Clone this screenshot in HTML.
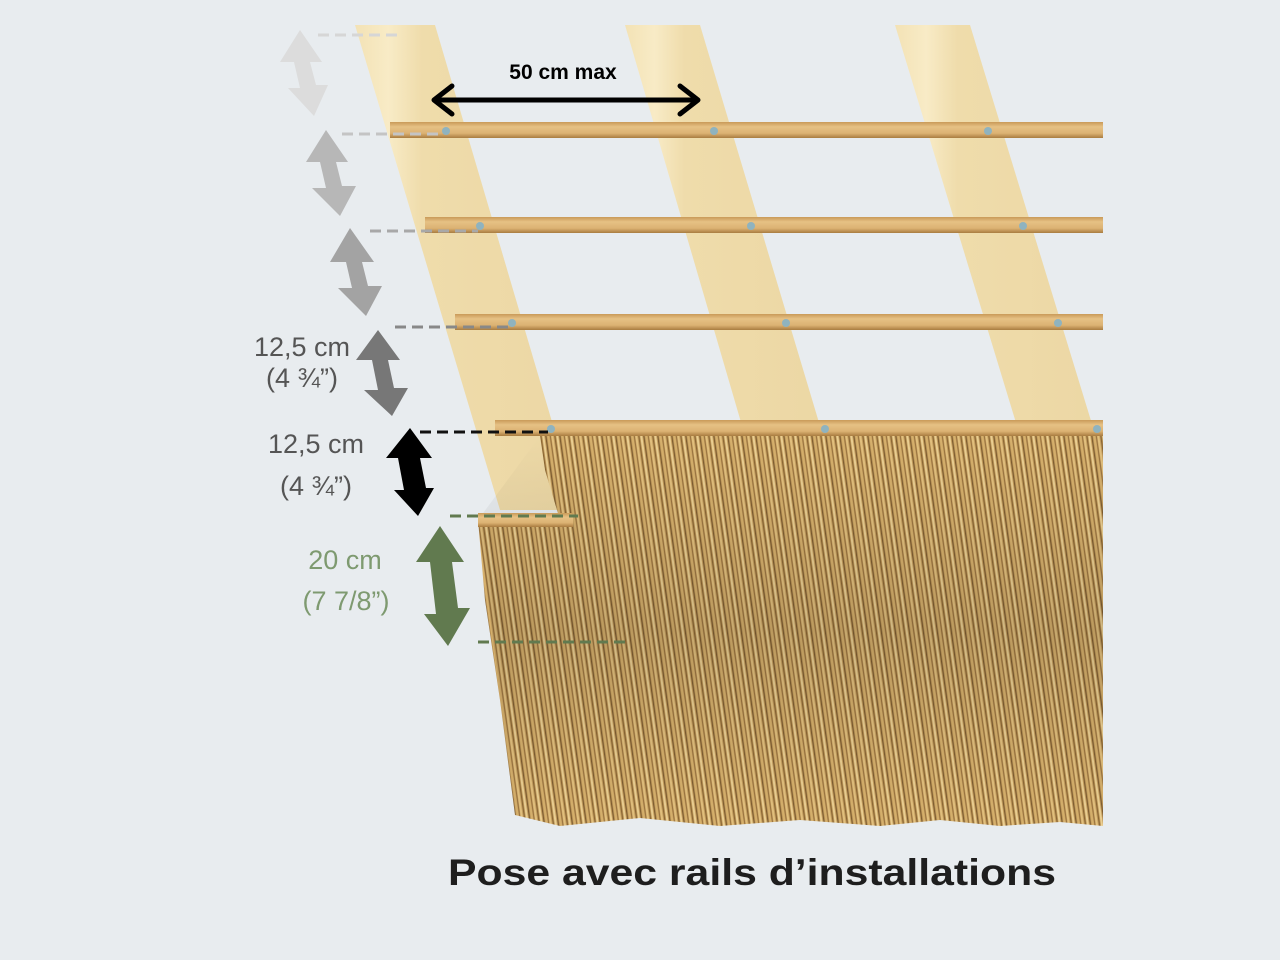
<!DOCTYPE html>
<html><head><meta charset="utf-8"><style>
html,body{margin:0;padding:0;background:#e8ecef;}
svg{display:block}
</style></head><body>
<svg width="1280" height="960" viewBox="0 0 1280 960" xmlns="http://www.w3.org/2000/svg">
<defs>
<linearGradient id="raf" x1="0" x2="1" y1="0" y2="0">
<stop offset="0" stop-color="#f3e2b5"/><stop offset="0.15" stop-color="#f8ebc6"/><stop offset="0.3" stop-color="#efdcab"/><stop offset="1" stop-color="#ecd7a4"/>
</linearGradient>
<linearGradient id="rail" x1="0" x2="0" y1="0" y2="1">
<stop offset="0" stop-color="#c99a58"/><stop offset="0.3" stop-color="#e6c184"/><stop offset="0.7" stop-color="#dcb273"/><stop offset="1" stop-color="#a97c40"/>
</linearGradient>
<pattern id="straw" width="14" height="400" patternUnits="userSpaceOnUse" patternTransform="skewX(8)">
<rect width="14" height="400" fill="#c29b5c"/>
<rect x="0" width="2" height="400" fill="#e2c07e"/>
<rect x="3" width="1.2" height="400" fill="#8a6634"/>
<rect x="5" width="2" height="400" fill="#ebcf92"/>
<rect x="8" width="1.2" height="400" fill="#7d5c30"/>
<rect x="10" width="2" height="400" fill="#d6b06c"/>
<rect x="12.5" width="1" height="400" fill="#9a7440"/>
</pattern>
<linearGradient id="shade" x1="0" x2="0" y1="0" y2="1">
<stop offset="0" stop-color="#000" stop-opacity="0"/><stop offset="0.5" stop-color="#000" stop-opacity="0.12"/><stop offset="1" stop-color="#000" stop-opacity="0"/>
</linearGradient>
</defs>
<rect width="1280" height="960" fill="#e8ecef"/>
<polygon points="355,25 435,25 578,510 500,510" fill="url(#raf)"/>
<polygon points="625,25 700,25 823,436 745,436" fill="url(#raf)"/>
<polygon points="895,25 970,25 1103,460 1103,480 1020,436" fill="url(#raf)"/>
<rect x="390" y="122" width="713" height="16" fill="url(#rail)"/>
<rect x="425" y="217" width="678" height="16" fill="url(#rail)"/>
<rect x="455" y="314" width="648" height="16" fill="url(#rail)"/>
<rect x="495" y="420" width="608" height="16" fill="url(#rail)"/>
<g fill="#8fb3bf">
<circle cx="446" cy="131" r="4"/><circle cx="714" cy="131" r="4"/><circle cx="988" cy="131" r="4"/>
<circle cx="480" cy="226" r="4"/><circle cx="751" cy="226" r="4"/><circle cx="1023" cy="226" r="4"/>
<circle cx="512" cy="323" r="4"/><circle cx="786" cy="323" r="4"/><circle cx="1058" cy="323" r="4"/>
<circle cx="551" cy="429" r="4"/><circle cx="825" cy="429" r="4"/><circle cx="1097" cy="429" r="4"/>
</g>
<polygon points="540,436 1103,436 1103,826 1060,822 1000,826 940,820 880,826 800,820 720,826 640,818 560,826 515,815 500,700 485,600 478,520 560,520 545,470" fill="url(#straw)"/>
<polygon points="540,436 1103,436 1103,826 515,815 478,520" fill="url(#shade)"/>
<rect x="478" y="513" width="95" height="14" fill="url(#rail)"/>
<g stroke-width="3" stroke-dasharray="11,6" fill="none">
<line x1="318" y1="35" x2="400" y2="35" stroke="#d6d6d6"/>
<line x1="342" y1="134" x2="442" y2="134" stroke="#c4c4c4"/>
<line x1="370" y1="231" x2="478" y2="231" stroke="#a8a8a8"/>
<line x1="395" y1="327" x2="510" y2="327" stroke="#888"/>
<line x1="420" y1="432" x2="548" y2="432" stroke="#111"/>
<line x1="450" y1="516" x2="578" y2="516" stroke="#617a4f"/>
<line x1="478" y1="642" x2="625" y2="642" stroke="#617a4f"/>
</g>
<g>
<g fill="#dcdcdc"><polygon points="300,30 322,62 310,62 316,85 328,85 314,116 288,88 300,88 294,62 280,62"/></g>
<g fill="#b7b7b7"><polygon points="326,130 348,162 336,162 342,186 356,186 340,216 312,188 326,188 320,162 306,162"/></g>
<g fill="#a3a3a3"><polygon points="350,228 374,262 362,262 368,286 382,286 366,316 338,288 352,288 346,262 330,262"/></g>
<g fill="#777"><polygon points="378,330 400,360 388,360 394,388 408,388 392,416 364,390 378,390 372,360 356,360"/></g>
<g fill="#000"><polygon points="410,428 432,458 420,458 426,488 434,488 418,516 394,490 404,490 398,458 386,458"/></g>
<g fill="#617a4f"><polygon points="440,526 464,562 452,562 458,608 470,608 448,646 424,614 436,614 430,562 416,562"/></g>
</g>
<g stroke="#000" stroke-width="5" fill="none" stroke-linecap="round" stroke-linejoin="round">
<line x1="436" y1="100" x2="696" y2="100"/>
<polyline points="452,86 434,100 452,114"/>
<polyline points="680,86 698,100 680,114"/>
</g>
<g font-family="Liberation Sans, sans-serif">
<text x="563" y="79" font-size="21" font-weight="bold" text-anchor="middle" fill="#000">50 cm max</text>
<text x="302" y="356" font-size="27" text-anchor="middle" fill="#555">12,5 cm</text>
<text x="302" y="387" font-size="27" text-anchor="middle" fill="#555">(4 ¾”)</text>
<text x="316" y="453" font-size="27" text-anchor="middle" fill="#555">12,5 cm</text>
<text x="316" y="495" font-size="27" text-anchor="middle" fill="#555">(4 ¾”)</text>
<text x="345" y="569" font-size="27" text-anchor="middle" fill="#7e9a70">20 cm</text>
<text x="346" y="610" font-size="27" text-anchor="middle" fill="#7e9a70">(7 7/8”)</text>
<text x="752" y="885" font-size="37" font-weight="bold" text-anchor="middle" fill="#1e1e1e" textLength="608" lengthAdjust="spacingAndGlyphs">Pose avec rails d’installations</text>
</g>
</svg>
</body></html>
